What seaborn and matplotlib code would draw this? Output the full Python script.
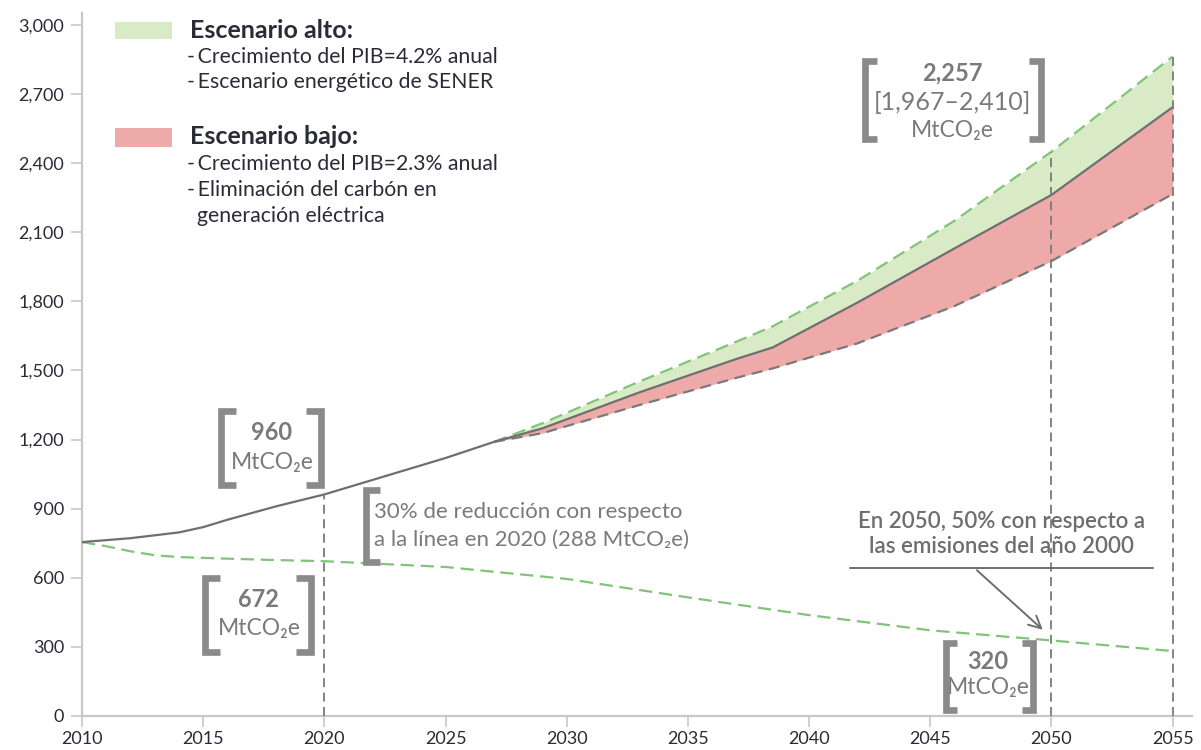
import matplotlib
matplotlib.use("Agg")
import matplotlib.pyplot as plt
import matplotlib.ticker as mticker
import numpy as np
import pandas as pd
import seaborn as sns

# --- data (MtCO2e) ---
base_years = [2010, 2012, 2014, 2015, 2016, 2018, 2020, 2025,
              2027, 2029, 2033, 2037, 2038.5, 2042, 2046, 2050, 2055]
base_vals = [755, 772, 797, 820, 852, 910, 962, 1120,
             1190, 1249, 1405, 1550, 1600, 1795, 2030, 2262, 2643]

proj_years = [2027, 2029, 2033, 2037, 2038.5, 2042, 2046, 2050, 2055]
high_vals = [1190, 1271, 1452, 1625, 1692, 1890, 2150, 2450, 2863]
low_vals = [1190, 1228, 1350, 1468, 1509, 1618, 1780, 1975, 2266]

target_years = [2010, 2011, 2012, 2013, 2014, 2016, 2018, 2020, 2025, 2030, 2035, 2040, 2045, 2050, 2055]
target_vals = [755, 737, 715, 698, 690, 683, 677, 672, 647, 595, 515, 438, 372, 328, 282]

x_ticks = list(range(2010, 2056, 5))
y_ticks = list(range(0, 3001, 300))

base = pd.Series(base_vals, index=base_years)
high = pd.Series(high_vals, index=proj_years)
low = pd.Series(low_vals, index=proj_years)

GREEN_FILL = "#d9eac6"
RED_FILL = "#eeaaa8"
GREEN_LINE = "#82c37a"
GREY_LINE = "#6f6f6f"
GREY_DASH = "#7a7a7a"
BRACKET = "#8a8a8a"
NOTE = "#7a7a7a"
DARK = "#2b2b38"

sns.set_theme(style="ticks")
plt.rcParams['font.family'] = ['Lato', 'DejaVu Sans']

fig = plt.figure(figsize=(12.01, 7.5), dpi=100)
ax = fig.add_axes([82 / 1201, 34 / 750, (1192 - 82) / 1201, (716 - 13) / 750])

# scenario bands
ax.fill_between(proj_years, base[proj_years].values, high.values, color=GREEN_FILL, lw=0, zorder=1)
ax.fill_between(proj_years, low.values, base[proj_years].values, color=RED_FILL, lw=0, zorder=1)

sns.lineplot(x=proj_years, y=high.values, ax=ax, color=GREEN_LINE, lw=1.6,
             linestyle=(0, (6, 3)), zorder=3)
sns.lineplot(x=proj_years, y=low.values, ax=ax, color=GREY_DASH, lw=1.6,
             linestyle=(0, (5, 3)), zorder=3)
sns.lineplot(x=base_years, y=base_vals, ax=ax, color=GREY_LINE, lw=1.6, zorder=4)
sns.lineplot(x=target_years, y=target_vals, ax=ax, color=GREEN_LINE, lw=1.6,
             linestyle=(0, (6, 3)), zorder=3)

# reference verticals
for yr, top in [(2020, base[2020]), (2050, high[2050]), (2055, high[2055])]:
    ax.vlines(yr, 0, top, color=GREY_DASH, lw=1.3, linestyles=[(0, (5, 3))], zorder=5)

ax.set_xlim(2010, 2055.8)
ax.set_ylim(0, 3052)
ax.set_xticks(x_ticks)
ax.set_yticks(y_ticks)
ax.yaxis.set_major_formatter(mticker.FuncFormatter(lambda v, p: f"{v:,.0f}"))
ax.set_xlabel("")
ax.set_ylabel("")
for s in ["top", "right"]:
    ax.spines[s].set_visible(False)
for s in ["left", "bottom"]:
    ax.spines[s].set_color("#c8c8c8")
    ax.spines[s].set_linewidth(1.6)
ax.tick_params(axis="both", direction="out", length=8, width=1.2, color="#c8c8c8",
               labelcolor=DARK, labelsize=13)
ax.tick_params(axis="y", pad=5)
ax.tick_params(axis="x", pad=3)


def bracket(x0, x1, y0, y1, arm, left=True, right=True):
    kw = dict(color=BRACKET, lw=4.8, solid_joinstyle="miter", solid_capstyle="butt", zorder=6)
    if left:
        ax.plot([x0 + arm, x0, x0, x0 + arm], [y1, y1, y0, y0], **kw)
    if right:
        ax.plot([x1 - arm, x1, x1, x1 - arm], [y1, y1, y0, y0], **kw)


NUM = dict(ha="center", va="center", color=NOTE, fontsize=17, fontweight="bold")
UNIT = dict(ha="center", va="center", color=NOTE, fontsize=16.5)

# 960 box
bracket(2015.73, 2019.86, 1004, 1326, 0.63)
ax.text(2017.84, 1229, "960", **NUM)
ax.text(2017.84, 1100, "MtCO₂e", **UNIT)

# 672 box
bracket(2015.07, 2019.45, 278, 600, 0.63)
ax.text(2017.30, 504, "672", **NUM)
ax.text(2017.30, 380, "MtCO₂e", **UNIT)

# 30% note
bracket(2021.72, 2030, 669, 981, 0.58, right=False)
ax.text(2022.05, 886, "30% de reducción con respecto", ha="left", va="center", color=NOTE, fontsize=16)
ax.text(2022.05, 764, "a la línea en 2020 (288 MtCO₂e)", ha="left", va="center", color=NOTE, fontsize=16)

# 2,257 box
bracket(2042.30, 2049.59, 2505, 2845, 0.5)
ax.text(2045.93, 2792, "2,257", **NUM)
ax.text(2045.93, 2662, "[1,967–2,410]", ha="center", va="center", color=NOTE, fontsize=18)
ax.text(2045.93, 2540, "MtCO₂e", **UNIT)

# 320 box
bracket(2045.67, 2049.23, 26, 318, 0.45)
ax.text(2047.38, 236, "320", **NUM)
ax.text(2047.38, 124, "MtCO₂e", **UNIT)

# 2050 note with leader
ax.text(2047.94, 844, "En 2050, 50% con respecto a", ha="center", va="center", color="#6e6e6e",
        fontsize=16, fontweight="semibold")
ax.text(2047.94, 735, "las emisiones del año 2000", ha="center", va="center", color="#6e6e6e",
        fontsize=16, fontweight="semibold")
ax.plot([2041.68, 2054.18], [641, 641], color="#6e6e6e", lw=1.4, zorder=6)
ax.annotate("", xy=(2049.73, 366), xytext=(2046.84, 641),
            arrowprops=dict(arrowstyle="->", color="#6e6e6e", lw=1.4, mutation_scale=22))

# legend block
TITLE = dict(ha="left", va="center", color=DARK, fontsize=18, fontweight="bold")
BODY = dict(ha="left", va="center", color=DARK, fontsize=15.3)
ax.fill_between([2011.36, 2013.70], 2939, 3011, color=GREEN_FILL, lw=0)
ax.fill_between([2011.36, 2013.70], 2472, 2553, color=RED_FILL, lw=0)
ax.text(2014.46, 2975, "Escenario alto:", **TITLE)
ax.text(2014.33, 2860, "-\u2009Crecimiento del PIB=4.2% anual", **BODY)
ax.text(2014.33, 2752, "-\u2009Escenario energético de SENER", **BODY)
ax.text(2014.46, 2518, "Escenario bajo:", **TITLE)
ax.text(2014.33, 2397, "-\u2009Crecimiento del PIB=2.3% anual", **BODY)
ax.text(2014.33, 2284, "-\u2009Eliminación del carbón en", **BODY)
ax.text(2014.75, 2171, "generación eléctrica", **BODY)

fig.savefig("out.png", dpi=100)
plt.close(fig)
